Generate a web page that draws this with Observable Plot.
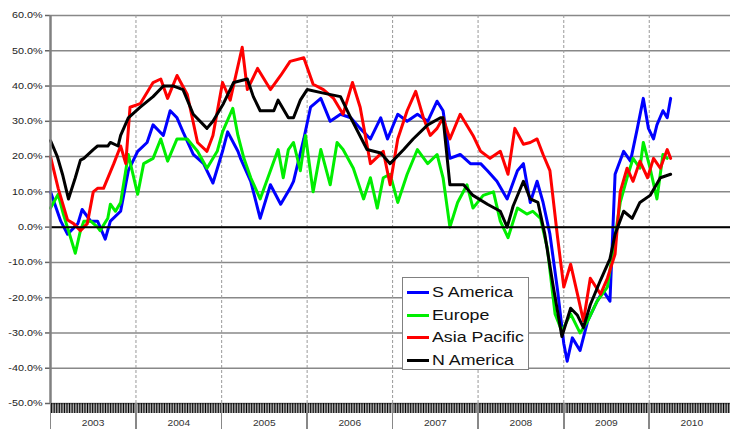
<!DOCTYPE html>
<html><head><meta charset="utf-8">
<script src="https://cdn.jsdelivr.net/npm/d3@7"></script>
<script src="https://cdn.jsdelivr.net/npm/@observablehq/plot@0.6"></script>
<style>
body{margin:0;background:#fff;}
#wrap{position:relative;width:730px;height:429px;overflow:hidden;font-family:"Liberation Sans",Arial,sans-serif;background:#fff;}
#legend{position:absolute;left:402px;top:277px;width:125px;height:91px;border:1.5px solid #808080;background:#fff;}
.row{position:absolute;left:0;height:20px;width:125px;}
.sw{position:absolute;left:4px;width:22px;height:3px;top:9px;}
.lt{position:absolute;left:29px;top:1px;font-size:14px;line-height:18px;color:#111;white-space:nowrap;transform:scaleX(1.27);transform-origin:0 50%;}
</style></head>
<body><div id="wrap"></div>
<script>
// ---- data (decimal year, % change) ----
const seriesNames = ["S America", "Europe", "Asia Pacific", "N America"];
const seriesColors = ["#0000ff", "#00ee00", "#ff0000", "#000000"];
const yTicks = [60, 50, 40, 30, 20, 10, 0, -10, -20, -30, -40, -50];
const yearLabels = [2003, 2004, 2005, 2006, 2007, 2008, 2009, 2010];

const sAmerica = [[2003.00,10],[2003.12,1.7],[2003.20,-2],[2003.32,1],[2003.37,5],[2003.47,1.7],[2003.55,1.7],[2003.64,-3.4],[2003.70,1.7],[2003.82,4.5],[2003.91,16],[2004.02,21.5],[2004.13,24],[2004.20,29],[2004.32,26],[2004.40,33],[2004.48,31],[2004.55,27],[2004.67,20.6],[2004.79,18],[2004.90,12.5],[2005.01,21.5],[2005.07,27],[2005.19,21.5],[2005.22,19.5],[2005.34,13],[2005.45,2.5],[2005.57,12],[2005.69,6.5],[2005.80,11],[2005.84,13],[2005.96,25],[2006.04,34],[2006.16,36.5],[2006.27,30],[2006.39,32],[2006.51,31],[2006.62,28],[2006.74,25],[2006.86,31],[2006.94,25],[2007.06,32],[2007.17,30],[2007.29,32],[2007.41,30],[2007.52,35.7],[2007.59,33],[2007.67,19.5],[2007.79,20.6],[2007.91,18],[2008.03,18],[2008.11,16],[2008.22,13],[2008.34,8],[2008.46,16],[2008.53,18],[2008.61,7],[2008.69,13],[2008.76,7],[2008.84,-2],[2008.93,-18],[2009.00,-33],[2009.04,-38],[2009.10,-31.4],[2009.19,-35],[2009.28,-26.6],[2009.39,-21],[2009.46,-18],[2009.54,-21],[2009.60,15],[2009.70,21.5],[2009.78,18.7],[2009.86,28],[2009.93,36.5],[2009.99,28],[2010.05,25],[2010.09,29],[2010.16,33],[2010.21,31],[2010.25,36.5]];

const europe = [[2003.00,5.4],[2003.09,9.3],[2003.15,3.7],[2003.21,-1],[2003.29,-7.4],[2003.35,-1],[2003.39,1.7],[2003.47,1.7],[2003.55,0],[2003.58,-1],[2003.67,2.5],[2003.70,6.5],[2003.76,4.5],[2003.82,7],[2003.91,20.6],[2004.02,9.3],[2004.09,18],[2004.20,19.5],[2004.29,25],[2004.37,18.7],[2004.48,25],[2004.60,25],[2004.72,21.5],[2004.83,16.7],[2004.95,21.5],[2005.01,27],[2005.13,33.7],[2005.19,26],[2005.26,19.5],[2005.34,14],[2005.45,8],[2005.57,16],[2005.66,22],[2005.72,14],[2005.78,22],[2005.84,24],[2005.92,16],[2005.98,26],[2006.07,10],[2006.16,22],[2006.27,12],[2006.35,24],[2006.42,22],[2006.54,16.7],[2006.66,8],[2006.74,14],[2006.82,5.4],[2006.89,14],[2006.97,15],[2007.06,7],[2007.17,15],[2007.29,22],[2007.41,18],[2007.52,20.6],[2007.59,14],[2007.67,0],[2007.76,7],[2007.87,12],[2007.94,5.4],[2008.06,9],[2008.18,10],[2008.26,1.7],[2008.35,-3],[2008.46,5.4],[2008.57,3.7],[2008.64,4.5],[2008.73,2.5],[2008.81,-6],[2008.90,-24.6],[2008.98,-29.5],[2009.08,-24.6],[2009.19,-30],[2009.28,-26.6],[2009.39,-21],[2009.51,-17],[2009.58,-6],[2009.66,7],[2009.74,14],[2009.81,19.5],[2009.89,16.7],[2009.93,24],[2010.01,16.7],[2010.09,8],[2010.16,20.6],[2010.21,19.5]];

const asiaPacific = [[2003.00,20],[2003.09,11],[2003.20,2],[2003.27,1],[2003.35,-1],[2003.43,1],[2003.50,10],[2003.55,11],[2003.62,11],[2003.74,18],[2003.82,23],[2003.88,18],[2003.93,34],[2004.05,35],[2004.20,41],[2004.29,42],[2004.37,36.5],[2004.48,43],[2004.60,37.6],[2004.72,24],[2004.83,21.5],[2004.90,26],[2005.01,41],[2005.10,36],[2005.24,51],[2005.30,39],[2005.42,45],[2005.57,39],[2005.69,43],[2005.80,47],[2005.96,48],[2006.07,40.5],[2006.19,39],[2006.31,36.5],[2006.42,32],[2006.53,41],[2006.62,34],[2006.74,18],[2006.89,21.5],[2006.97,12],[2007.06,25],[2007.17,33],[2007.27,38.5],[2007.36,31],[2007.44,26],[2007.52,28],[2007.59,31],[2007.67,25],[2007.79,32],[2007.94,26],[2008.03,21.5],[2008.14,19.5],[2008.26,21.5],[2008.35,15],[2008.43,28],[2008.53,23.5],[2008.61,24],[2008.69,25],[2008.76,20.6],[2008.84,16],[2008.93,-3],[2009.00,-17],[2009.08,-10.5],[2009.16,-19],[2009.23,-26.6],[2009.31,-14.5],[2009.43,-19],[2009.51,-14.5],[2009.60,-7.6],[2009.66,10],[2009.74,16.7],[2009.81,13],[2009.89,18.7],[2009.98,14],[2010.05,19.5],[2010.13,16.7],[2010.21,22],[2010.25,19.5]];

const nAmerica = [[2003.00,24.5],[2003.08,20],[2003.14,15],[2003.21,8],[2003.29,14],[2003.35,19],[2003.39,19.5],[2003.50,22],[2003.55,23],[2003.67,23],[2003.70,24],[2003.79,23],[2003.82,26],[2003.91,31],[2004.05,34],[2004.20,37],[2004.32,40],[2004.44,40],[2004.55,39],[2004.67,32],[2004.83,28],[2004.90,30],[2005.02,35],[2005.14,41],[2005.30,42],[2005.37,37],[2005.45,33],[2005.61,33],[2005.66,36],[2005.78,31],[2005.84,31],[2005.92,36],[2006.00,39],[2006.19,38],[2006.39,37],[2006.51,31],[2006.70,22],[2006.86,21],[2006.97,18],[2007.13,22],[2007.24,25],[2007.41,29],[2007.56,31],[2007.59,31],[2007.67,12],[2007.83,12],[2007.94,9],[2008.11,6.5],[2008.26,4.5],[2008.34,0],[2008.41,6],[2008.53,13],[2008.61,8],[2008.70,7],[2008.78,-2],[2008.88,-17],[2008.98,-31],[2009.08,-23],[2009.16,-25],[2009.23,-28.5],[2009.31,-22],[2009.43,-15],[2009.54,-9],[2009.60,-2],[2009.70,4.5],[2009.80,2.5],[2009.89,7],[2010.01,9],[2010.13,14],[2010.25,15]];

// ---- build ----
const toDate = y => { const f = Math.floor(y); return new Date(Date.UTC(f,0,1) + (y - f) * 365.25 * 864e5); };
const seriesData = [sAmerica, europe, asiaPacific, nAmerica];
const rows = seriesData.map((s, i) => s.map(([t, v]) => ({date: toDate(t), value: v, series: seriesNames[i]})));
const x0 = new Date(Date.UTC(2003,0,1)), x1 = new Date(Date.UTC(2010,11,14));
const yearStarts = yearLabels.map(y => new Date(Date.UTC(y,0,1)));
const yearMids = yearLabels.map(y => new Date(Date.UTC(y,6,2)));
const weeks = d3.utcWeek.range(x0, x1);

const chart = Plot.plot({
  width: 730, height: 429,
  marginLeft: 50, marginRight: 0, marginTop: 15, marginBottom: 26,
  x: {type: "utc", domain: [x0, x1]},
  y: {domain: [-50, 60]},
  style: {fontFamily: "'Liberation Sans', Arial, sans-serif", background: "white", color: "#222"},
  marks: [
    Plot.gridY(yTicks, {stroke: "#888", strokeOpacity: 1, strokeWidth: 1.5}),
    Plot.gridX(yearStarts.slice(1), {stroke: "#999", strokeOpacity: 1, strokeWidth: 1, strokeDasharray: "3,2"}),
    Plot.axisY(yTicks, {tickFormat: d => d.toFixed(1) + "%", tickSize: 5, tickPadding: 3, stroke: "#666", strokeWidth: 1.5, fontSize: 9, fill: "#222", label: null}),
    Plot.axisX(weeks, {tickSize: 10, tickFormat: () => "", stroke: "#000", strokeWidth: 1, label: null, ariaLabel: "week-ticks"}),
    Plot.axisX(yearStarts, {tickSize: 26, tickFormat: () => "", stroke: "#888", strokeWidth: 1.5, label: null}),
    Plot.axisX(yearMids, {tickSize: 0, tickPadding: 16, tickFormat: d3.utcFormat("%Y"), fontSize: 8.5, fill: "#333", label: null}),
    ...rows.map((r, i) => Plot.line(r, {x: "date", y: "value", stroke: seriesColors[i], strokeWidth: 3, strokeLinejoin: "round"})),
    Plot.ruleY([0], {stroke: "#000", strokeWidth: 2}),
    Plot.ruleX([x0], {stroke: "#808080", strokeWidth: 2.5})
  ]
});
const wrap = document.getElementById("wrap");
wrap.appendChild(chart);

// crisp weekly tick band
chart.querySelectorAll('[aria-label="week-ticks"], [aria-label="x-axis tick"]').forEach(g => g.setAttribute("shape-rendering", "crispEdges"));

// horizontal stretch of tick labels, as in the reference
chart.querySelectorAll('[aria-label="y-axis tick label"] text, [aria-label="x-axis tick label"] text').forEach(t => {
  const w = t.getComputedTextLength();
  if (w > 0) { t.setAttribute("textLength", (w * 1.2).toFixed(1)); t.setAttribute("lengthAdjust", "spacingAndGlyphs"); }
});

// legend
const lg = document.createElement("div");
lg.id = "legend";
seriesNames.forEach((n, i) => {
  const row = document.createElement("div");
  row.className = "row";
  row.style.top = (4 + i * 22.7) + "px";
  row.innerHTML = `<div class="sw" style="background:${seriesColors[i]}"></div><span class="lt">${n}</span>`;
  lg.appendChild(row);
});
wrap.appendChild(lg);
</script></body></html>
